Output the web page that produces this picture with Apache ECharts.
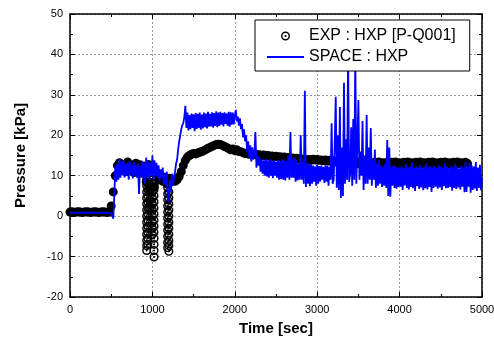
<!DOCTYPE html>
<html>
<head>
<meta charset="UTF-8">
<title>HXP pressure</title>
<script src="https://cdn.jsdelivr.net/npm/echarts@6.0.0/dist/echarts.min.js"></script>
<style>
  html, body { margin: 0; padding: 0; background: #fff; }
  #chart { width: 494px; height: 342px; }
</style>
</head>
<body>
<div id="chart"></div>
<script>
// circle with a dot in the middle, used for the experiment points
const ringIcon = 'path://M50,0A50,50,0,1,1,50,100A50,50,0,1,1,50,0ZM50,16A34,34,0,1,0,50,84A34,34,0,1,0,50,16ZM50,38A12,12,0,1,1,50,62A12,12,0,1,1,50,38Z';
// plain line for the simulation entry of the legend
const lineIcon = 'path://M0,0H100V6H0Z';

const font = 'Liberation Sans, Arial, sans-serif';
const expName = 'EXP : HXP [P-Q001]';
const spaceName = 'SPACE : HXP';

// EXP : HXP [P-Q001], one sample every 25 s from 0 s
const expStep = 25;
const expBand = [
  1.0, 1.1, 0.9, 1.0, 1.1, 1.0, 0.9, 1.0, 1.1, 1.0, 0.9, 1.0, 1.1, 1.0, 0.9, 1.0, 1.1, 1.0, 0.9, 1.0,
  2.5, 6.0, 10.0, 12.5,
  13.2, 11.2, 12.8, 11.0, 13.4, 11.6, 12.6, 10.8, 13.1, 11.4, 12.7, 10.6,
  12.2, 8.5, 12.8, 6.5, 11.4, 7.2, 10.8, 9.0,
  10.0, 8.6, 9.6, 8.0, 9.4, 8.4, 9.0, 8.6,
  9.0, 9.8, 11.0, 12.5, 13.8, 14.6, 15.0, 15.3,
  15.5, 15.4, 15.6, 15.8, 16.0, 16.2, 16.5, 16.8,
  17.0, 17.3, 17.5, 17.7, 17.8, 17.7, 17.5, 17.2,
  17.0, 16.7, 16.4, 16.6, 16.2, 16.4, 16.0, 15.9,
  15.7, 15.5, 15.6, 15.3, 15.4, 15.2, 15.3, 15.1,
  15.2, 15.0, 15.1, 14.9, 15.0, 14.8, 14.9, 14.7,
  14.8, 14.6, 14.7, 14.5, 14.6, 14.4, 14.5, 14.3,
  14.4, 14.2, 14.3, 14.1, 14.2, 14.0, 14.1, 13.9,
  14.0, 13.8, 14.1, 13.9, 14.0, 13.8, 13.9, 13.7,
  13.9, 13.6, 13.8, 13.5, 13.7, 13.4, 13.6, 13.3,
  13.5, 13.2, 13.4, 13.1, 13.4, 13.0, 13.3, 13.1,
  13.3, 12.9, 13.2, 13.0, 13.3, 12.8, 13.2, 12.9,
  13.3, 12.8, 13.4, 12.9, 13.2, 12.7, 13.3, 12.9,
  13.3, 12.7, 13.4, 12.8, 13.2, 12.7, 13.3, 12.8,
  13.4, 12.8, 13.2, 12.7, 13.3, 12.9, 13.4, 12.8,
  13.2, 12.7, 13.3, 12.8, 13.4, 12.9, 13.2, 12.7,
  13.3, 12.8, 13.4, 12.9, 13.2, 12.7, 13.3, 12.8,
  13.4, 12.9, 13.2, 12.8, 13.3, 13.0
];

// the short drops of the measurement: [time, pressures read down the chain]
const expDips = [
  [930, [9, 7.5, 6, 4.5, 3, 1.5, 0, -1.5, -3, -4.5, -6, -7.3, -8.5]],
  [945, [8, 6.5, 5, 3.5, 2, 0.5, -1, -2.5, -4, -5.5, -7]],
  [965, [10, 8, 6, 4, 2]],
  [1000, [9, 7.5, 6, 4.5, 3, 1.5, 0, -1.5, -3, -4.5]],
  [1020, [8, 6.5, 5, 3.5, 2, 0.5, -1, -2.5, -4, -5.5, -7, -8.5, -10.1]],
  [1185, [7, 5.5, 4, 2.5, 1, -0.5, -2, -3.5, -5, -6.5, -7.8]],
  [1200, [6, 4.5, 3, 1.5, 0, -1.5, -3, -4.5, -6, -7.3, -8.7]]
];

// SPACE : HXP, one sample every 12.5 s from 0 s (8 values per 100 s row)
const spaceStep = 12.5;
const spacePressure = [
  0.8, 0.8, 0.9, 0.8, 0.8, 0.9, 0.8, 0.8,
  0.8, 0.9, 0.8, 0.8, 0.9, 0.8, 0.8, 0.9,
  0.8, 0.8, 0.9, 0.8, 0.8, 0.9, 0.8, 0.8,
  0.9, 0.8, 0.8, 0.9, 0.8, 0.8, 0.9, 0.8,
  0.8, 0.9, 0.8, 0.8, 0.9, 0.8, 0.8, 0.8,
  0.6, 0.2, -0.6, 5.0, 12.5, 8.5, 13.0, 9.0,
  14.2, 9.5, 13.5, 10.2, 13.8, 9.6, 12.9, 10.0,
  13.2, 9.0, 13.6, 10.5, 12.8, 9.3, 13.4, 10.0,
  12.5, 9.5, 13.0, 5.5, 12.4, 10.0, 13.6, 9.4,
  13.1, 8.0, 14.5, 9.6, 13.5, 9.0, 13.2, 10.1,
  15.0, 9.0, 13.8, 10.0, 13.2, 9.5, 12.6, 8.8,
  11.5, 9.5, 12.0, 8.0, 10.5, 7.5, 11.0, 4.5,
  3.5, 9.0, 6.0, 10.5, 7.5, 9.8, 11.0, 13.0,
  14.0, 16.5, 18.5, 20.0, 21.5, 22.5, 23.0, 24.5,
  27.3, 21.8, 25.6, 21.2, 25.0, 21.5, 25.4, 21.8,
  25.2, 21.0, 25.5, 21.6, 25.3, 21.8, 25.6, 21.4,
  25.1, 21.7, 25.6, 22.0, 25.4, 21.7, 25.8, 22.1,
  25.3, 22.2, 25.7, 21.9, 25.5, 22.3, 25.9, 22.0,
  25.6, 22.3, 25.8, 22.6, 25.5, 22.2, 25.7, 22.8,
  25.4, 22.4, 25.8, 22.1, 25.7, 22.6, 25.6, 22.7,
  25.0, 26.3, 23.4, 24.6, 22.4, 24.2, 21.5, 22.8,
  19.5, 21.5, 18.5, 20.0, 16.0, 18.5, 14.5, 17.5,
  13.5, 17.0, 14.0, 15.5, 20.8, 12.0, 15.0, 12.5,
  14.6, 11.0, 14.0, 10.5, 13.8, 10.0, 14.2, 9.8,
  13.8, 9.5, 14.0, 10.0, 13.6, 9.4, 13.9, 10.0,
  13.5, 9.5, 13.9, 9.0, 13.7, 9.2, 14.0, 9.0,
  14.0, 8.8, 13.6, 9.5, 15.0, 9.0, 20.8, 9.5,
  14.2, 9.5, 14.5, 8.5, 13.8, 8.8, 13.0, 9.0,
  20.0, 9.0, 13.5, 8.0, 31.0, 7.2, 13.0, 8.0,
  13.0, 7.4, 12.8, 8.0, 12.5, 8.5, 12.3, 7.5,
  12.8, 8.0, 12.4, 8.6, 12.5, 9.0, 12.2, 8.2,
  12.6, 8.5, 12.4, 7.5, 12.2, 9.0, 23.0, 8.0,
  9.0, 18.0, 29.5, 7.0, 20.0, 6.5, 27.0, 4.5,
  17.0, 5.0, 33.0, 8.0, 19.0, 9.0, 40.0, 8.5,
  10.5, 22.0, 7.5, 24.0, 9.0, 40.0, 8.0, 18.0,
  28.7, 9.0, 16.0, 10.0, 23.5, 6.5, 15.0, 8.0,
  25.0, 8.0, 17.0, 9.0, 21.8, 7.5, 14.0, 9.0,
  16.5, 7.0, 13.0, 7.5, 14.0, 8.0, 12.5, 7.2,
  12.2, 7.5, 13.0, 7.0, 18.8, 5.0, 17.0, 4.8,
  12.0, 7.5, 12.5, 7.0, 12.3, 6.8, 12.0, 7.2,
  12.0, 7.3, 12.4, 6.5, 11.8, 7.6, 12.9, 7.0,
  12.1, 6.6, 12.3, 7.2, 13.3, 6.9, 11.9, 6.2,
  12.2, 7.4, 12.0, 6.7, 12.6, 7.1, 11.8, 6.4,
  12.3, 6.9, 13.0, 6.6, 12.0, 7.2, 12.4, 6.0,
  12.1, 7.0, 12.5, 7.3, 11.9, 6.8, 12.6, 7.1,
  12.3, 6.5, 12.0, 7.4, 13.1, 6.9, 12.2, 7.0,
  11.9, 7.2, 12.4, 6.3, 12.1, 7.0, 12.8, 6.7,
  12.2, 7.1, 11.8, 6.6, 12.5, 7.3, 12.0, 5.9,
  13.4, 6.0, 12.2, 7.3, 13.2, 5.8, 12.6, 6.5,
  12.3, 6.8, 13.4, 6.2, 12.0, 7.0, 12.7, 6.4,
  9.5
];

const expBandData = expBand.map((p, i) => [i * expStep, p]);
const expDipData = [];
expDips.forEach(([t, list]) => list.forEach(p => expDipData.push([t, p])));
const spaceData = spacePressure.map((p, i) => [i * spaceStep, p]);

const chart = echarts.init(document.getElementById('chart'));

const tickStyle = { color: '#000', width: 1 };
const frameLine = { onZero: false, lineStyle: { color: '#000', width: 1.5 } };
const gridLine = { show: true, lineStyle: { color: '#999', type: [2, 2], width: 1 } };

function mirrorAxis(pos, min, max, interval) {
  return {
    type: 'value', position: pos, min: min, max: max, interval: interval,
    axisLine: frameLine,
    axisTick: { inside: true, length: 5, lineStyle: tickStyle },
    minorTick: { show: true, splitNumber: 2, length: 3, lineStyle: tickStyle },
    axisLabel: { show: false },
    splitLine: { show: false }
  };
}

chart.setOption({
  animation: false,
  backgroundColor: '#fff',
  grid: { left: 70, right: 12, top: 14, bottom: 45, outerBoundsMode: 'none' },
  legend: {
    orient: 'vertical',
    left: 255,
    top: 20,
    backgroundColor: '#fff',
    borderColor: '#000',
    borderWidth: 1,
    borderRadius: 0,
    padding: [8, 14, 6, 12],
    itemWidth: 37,
    itemHeight: 9,
    itemGap: 5,
    textStyle: { fontSize: 16, lineHeight: 16, color: '#000', fontFamily: font },
    data: [
      { name: expName, icon: ringIcon },
      { name: spaceName, icon: lineIcon }
    ]
  },
  xAxis: [
    {
      type: 'value', position: 'bottom', min: 0, max: 5000, interval: 1000,
      name: 'Time [sec]', nameLocation: 'middle', nameGap: 24, nameMoveOverlap: false,
      nameTextStyle: { fontSize: 15, fontWeight: 'bold', color: '#000', fontFamily: font },
      axisLine: frameLine,
      axisTick: { inside: true, length: 5, lineStyle: tickStyle },
      minorTick: { show: true, splitNumber: 2, length: 3, lineStyle: tickStyle },
      axisLabel: { color: '#000', fontSize: 11, margin: 7, fontFamily: font, formatter: v => String(v) },
      splitLine: gridLine
    },
    mirrorAxis('top', 0, 5000, 1000)
  ],
  yAxis: [
    {
      type: 'value', position: 'left', min: -20, max: 50, interval: 10,
      name: 'Pressure [kPa]', nameLocation: 'middle', nameGap: 42, nameMoveOverlap: false,
      nameTextStyle: { fontSize: 15, fontWeight: 'bold', color: '#000', fontFamily: font },
      axisLine: frameLine,
      axisTick: { inside: true, length: 5, lineStyle: tickStyle },
      minorTick: { show: true, splitNumber: 2, length: 3, lineStyle: tickStyle },
      axisLabel: { color: '#000', fontSize: 11, margin: 7, fontFamily: font, formatter: v => String(v) },
      splitLine: gridLine
    },
    mirrorAxis('right', -20, 50, 10)
  ],
  series: [
    {
      // densely sampled points merge into a solid band
      name: expName,
      type: 'scatter',
      data: expBandData,
      symbol: 'circle',
      symbolSize: 9,
      itemStyle: { color: '#000', opacity: 1 },
      emphasis: { disabled: true }
    },
    {
      name: expName,
      type: 'scatter',
      data: expDipData,
      symbol: ringIcon,
      symbolSize: 9,
      itemStyle: { color: '#000', opacity: 1 },
      emphasis: { disabled: true }
    },
    {
      name: spaceName,
      type: 'line',
      data: spaceData,
      showSymbol: false,
      symbol: 'none',
      lineStyle: { color: '#0000ff', width: 1.8 },
      itemStyle: { color: '#0000ff' },
      emphasis: { disabled: true }
    }
  ]
});
</script>
</body>
</html>
